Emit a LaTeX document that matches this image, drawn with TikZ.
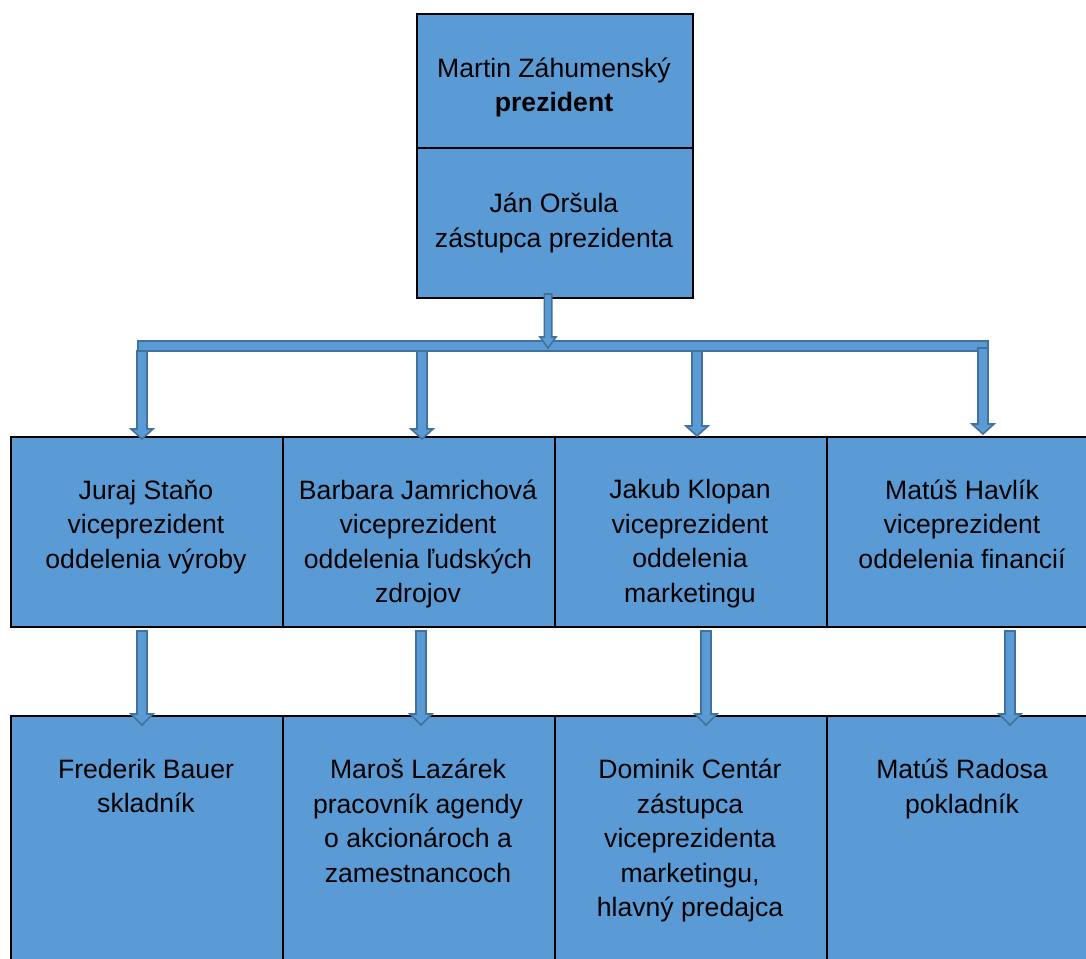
\documentclass[tikz,border=0pt]{standalone}
\usepackage{fontspec}
\setmainfont{Liberation Sans}
\usetikzlibrary{calc}
\definecolor{boxblue}{HTML}{5B9BD5}
\definecolor{arrline}{HTML}{41719C}
\tikzset{
  box/.style={draw=black, line width=2pt, fill=boxblue, rectangle, inner sep=0pt, anchor=north west},
  txt/.style={align=center, inner sep=0pt, anchor=north, font=\fontsize{26.6}{34.5}\selectfont, execute at begin node={\strut}},
  arr/.style={fill=boxblue, draw=arrline, line width=1.6pt, line join=miter},
}
\newcommand\barrow[5]{%
  \path[arr] let \p1=(#1), \p2=(#2) in
   (\x1-#3pt,\y1) -- (\x1+#3pt,\y1) -- (\x1+#3pt,\y2+#5pt) -- (\x1+#4pt,\y2+#5pt)
   -- (\x1,\y2) -- (\x1-#4pt,\y2+#5pt) -- (\x1-#3pt,\y2+#5pt) -- cycle;}
\begin{document}
\begin{tikzpicture}[x=1pt,y=-1pt]
\useasboundingbox (0,0) rectangle (1086,958);
\clip (0,0) rectangle (1086,958);
\fill[white] (0,0) rectangle (1086,958);
% top boxes
\node[box, minimum width=276pt, minimum height=134pt] (p1) at (416,13) {};
\node[box, minimum width=276pt, minimum height=150pt] (p2) at (416,147) {};
\node[txt] (p1t) at (554,57.5) {Martin Záhumenský\\\textbf{prezident}};
\node[txt] (p2t) at (554,193) {Ján Oršula\\zástupca prezidenta};
% middle row
\node[box, minimum width=272pt, minimum height=190pt] (v1) at (10,436) {};
\node[box, minimum width=272pt, minimum height=190pt] (v2) at (282,436) {};
\node[box, minimum width=272pt, minimum height=190pt] (v3) at (554,436) {};
\node[box, minimum width=272pt, minimum height=190pt] (v4) at (826,436) {};
\node[txt] (v1t) at (146,479.5) {Juraj Staňo\\viceprezident\\oddelenia výroby};
\node[txt] (v2t) at (418,479.5) {Barbara Jamrichová\\viceprezident\\oddelenia ľudských\\zdrojov};
\node[txt] (v3t) at (690,479.5) {Jakub Klopan\\viceprezident\\oddelenia\\marketingu};
\node[txt] (v4t) at (962,479.5) {Matúš Havlík\\viceprezident\\oddelenia financií};
% bottom row
\node[box, minimum width=272pt, minimum height=260pt] (b1) at (10,715) {};
\node[box, minimum width=272pt, minimum height=260pt] (b2) at (282,715) {};
\node[box, minimum width=272pt, minimum height=260pt] (b3) at (554,715) {};
\node[box, minimum width=272pt, minimum height=260pt] (b4) at (826,715) {};
\node[txt] (b1t) at (146,758.8) {Frederik Bauer\\skladník};
\node[txt] (b2t) at (418,758.8) {Maroš Lazárek\\pracovník agendy\\o akcionároch a\\zamestnancoch};
\node[txt] (b3t) at (690,758.8) {Dominik Centár\\zástupca\\viceprezidenta\\marketingu,\\hlavný predajca};
\node[txt] (b4t) at (962,758.8) {Matúš Radosa\\pokladník};
% bus
\coordinate (busL) at (138,341);
\coordinate (busR) at (988,351);
\path[arr] (busL) rectangle (busR);
\coordinate (busC) at (547,348);
\barrow{$(p2.south)+(-7,-5)$}{busC}{3.7}{8}{11}
% arrows to middle row
\barrow{$(v1.north)+(-5,-85)$}{$(v1.north)+(-5,3)$}{5}{11}{10}
\barrow{$(v2.north)+(3,-85)$}{$(v2.north)+(3,3)$}{5}{11}{10}
\barrow{$(v3.north)+(6,-85)$}{$(v3.north)+(6,0)$}{5}{11}{10}
\barrow{$(v4.north)+(20,-88)$}{$(v4.north)+(20,-2)$}{5}{11}{10}
% arrows to bottom row
\barrow{$(v1.south)+(-5,3)$}{$(b1.north)+(-5,10)$}{5}{11}{11}
\barrow{$(v2.south)+(2,3)$}{$(b2.north)+(2,10)$}{5}{11}{11}
\barrow{$(v3.south)+(15,3)$}{$(b3.north)+(15,10)$}{5}{11}{11}
\barrow{$(v4.south)+(47,3)$}{$(b4.north)+(47,10)$}{5}{11}{11}
\end{tikzpicture}
\end{document}
